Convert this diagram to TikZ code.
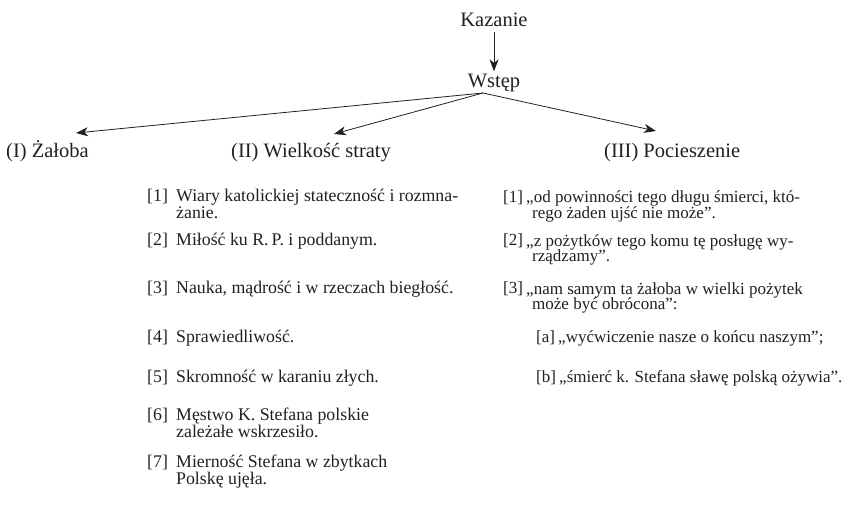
\documentclass[tikz,border=0pt]{standalone}
\usepackage{fontspec}
\setmainfont{Liberation Serif}
\usetikzlibrary{arrows.meta}
\definecolor{ink}{RGB}{35,31,32}
\begin{document}
\begin{tikzpicture}[x=1pt,y=-1pt,
  every node/.style={font=\fontsize{17.8}{17}\selectfont, inner sep=0pt, text=ink},
  head/.style={font=\fontsize{20.5}{22}\selectfont},
  right col/.style={font=\fontsize{17}{16}\selectfont},
  lbl/.style={head, anchor=base},
  lblw/.style={head, anchor=base west},
  num/.style={anchor=base west},
  item/.style={anchor=base west, align=left},
  arr/.style={draw=ink, line width=0.8pt, -{Stealth[length=12pt,width=9pt,inset=3.5pt]}}]
\useasboundingbox (0,0) rectangle (844,513);
% top
\node[lbl] (kaz) at (494,27) {Kazanie};
\node[lbl] (wst) at (494,88) {Wstęp};
\draw[arr] ([yshift=-5pt]kaz.south) -- ([yshift=3pt]wst.north);
\coordinate (hub) at (483,93);
% labels
\node[lblw] (zal) at (6,158) {(I) Żałoba};
\node[lblw] (wie) at (231,158) {(II) Wielkość straty};
\node[lblw] (poc) at (604,158) {(III) Pocieszenie};
\coordinate (t1) at (76,133);
\coordinate (t2) at (334,134);
\coordinate (t3) at (656,131);
\draw[arr] (hub) -- (t1);
\draw[arr] (hub) -- (t2);
\draw[arr] (hub) -- (t3);
% column II (two-line items: anchor is on the last line)
\node[num] (a1) at (147,202) {[1]};
\node[item] (b1) at (176,219) {Wiary katolickiej stateczność i rozmna-\\żanie.};
\node[num] (a2) at (147,246) {[2]};
\node[item] (b2) at (176,246) {Miłość ku R.\,P. i poddanym.};
\node[num] (a3) at (147,294) {[3]};
\node[item] (b3) at (176,294) {Nauka, mądrość i w rzeczach biegłość.};
\node[num] (a4) at (147,342) {[4]};
\node[item] (b4) at (176,342) {Sprawiedliwość.};
\node[num] (a5) at (147,382) {[5]};
\node[item] (b5) at (176,382) {Skromność w karaniu złych.};
\node[num] (a6) at (147,420) {[6]};
\node[item] (b6) at (176,437) {Męstwo K. Stefana polskie\\zależałe wskrzesiło.};
\node[num] (a7) at (147,467) {[7]};
\node[item] (b7) at (176,484) {Mierność Stefana w zbytkach\\Polskę ujęła.};
% column III
\node[num, right col] (c1) at (503,203) {[1]};
\node[item, right col] (d1) at (526,219) {„od powinności tego długu śmierci, któ-\\\hspace*{6pt}rego żaden ujść nie może”.};
\node[num, right col] (c2) at (503,246) {[2]};
\node[item, right col] (d2) at (526,262) {„z pożytków tego komu tę posługę wy-\\\hspace*{6pt}rządzamy”.};
\node[num, right col] (c3) at (503,294) {[3]};
\node[item, right col] (d3) at (526,310) {„nam samym ta żałoba w wielki pożytek\\\hspace*{6pt}może być obrócona”:};
\node[num, right col] (ca) at (536,342) {[a]};
\node[item, right col] (da) at (558,342) {„wyćwiczenie nasze o końcu naszym”;};
\node[num, right col] (cb) at (536,382) {[b]};
\node[item, right col] (db) at (559,382) {„śmierć k. Stefana sławę polską ożywia”.};
\end{tikzpicture}
\end{document}
